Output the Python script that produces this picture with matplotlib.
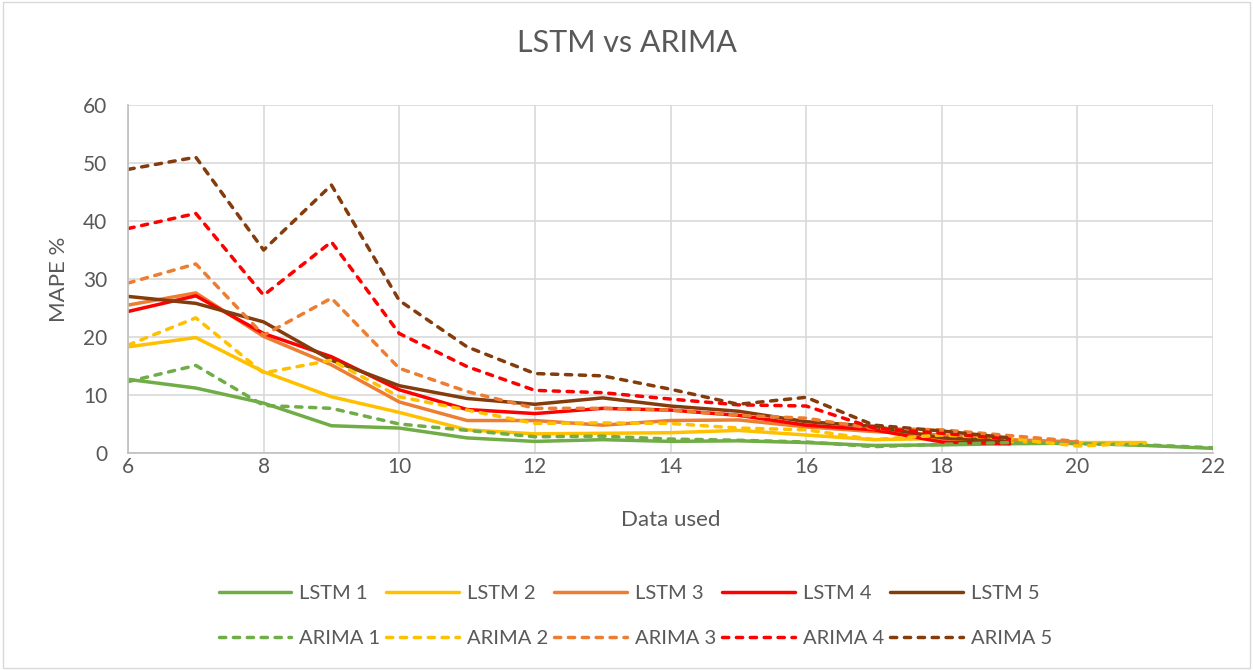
import numpy as np
import matplotlib.pyplot as plt
from matplotlib.patches import Rectangle

plt.rcParams['font.family'] = ['Lato', 'DejaVu Sans']

nan = np.nan
data_used = [6, 7, 8, 9, 10, 11, 12, 13, 14, 15, 16, 17, 18, 19, 20, 21, 22]

lstm_1 = [12.7, 11.2, 8.6, 4.7, 4.3, 2.6, 2.0, 2.3, 2.0, 2.1, 1.8, 1.3, 1.4, 1.6, 1.7, 1.3, 0.8]
lstm_2 = [18.3, 19.9, 14.0, 9.7, 7.0, 4.0, 3.3, 3.4, 3.5, 3.9, 3.1, 2.3, 2.5, 2.0, 1.8, 1.8, nan]
lstm_3 = [25.5, 27.6, 20.1, 15.2, 8.8, 5.6, 5.6, 4.8, 5.6, 5.7, 4.5, 3.7, 3.1, 2.3, 1.9, nan, nan]
lstm_4 = [24.4, 27.1, 20.6, 16.6, 10.9, 7.5, 6.8, 7.7, 7.4, 6.5, 4.8, 4.0, 1.9, 1.6, nan, nan, nan]
lstm_5 = [27.0, 25.8, 22.6, 16.0, 11.6, 9.4, 8.4, 9.5, 8.1, 7.2, 5.4, 4.6, 2.6, 2.0, nan, nan, nan]

arima_1 = [12.3, 15.1, 8.2, 7.7, 5.0, 3.9, 2.8, 2.9, 2.4, 2.2, 1.9, 1.1, 1.5, 1.8, 1.6, 1.4, 0.9]
arima_2 = [18.6, 23.3, 13.8, 16.0, 9.7, 7.4, 5.1, 5.2, 5.1, 4.3, 4.0, 2.3, 3.1, 2.5, 1.2, 1.7, nan]
arima_3 = [29.3, 32.6, 20.3, 26.7, 14.6, 10.6, 7.7, 7.7, 7.4, 6.5, 6.0, 4.2, 4.0, 3.0, 2.0, nan, nan]
arima_4 = [38.7, 41.3, 27.2, 36.4, 20.6, 14.9, 10.8, 10.4, 9.3, 8.3, 8.1, 4.3, 3.4, 2.4, nan, nan, nan]
arima_5 = [48.9, 51.0, 35.0, 46.2, 26.3, 18.3, 13.7, 13.3, 11.0, 8.4, 9.6, 4.8, 3.8, 2.6, nan, nan, nan]

colors = ['#70AD47', '#FFC000', '#ED7D31', '#FF0000', '#843C0C']
lstm_series = [lstm_1, lstm_2, lstm_3, lstm_4, lstm_5]
arima_series = [arima_1, arima_2, arima_3, arima_4, arima_5]

grey_text = '#595959'
grid_col = '#D9D9D9'

fig = plt.figure(figsize=(12.53, 6.70), dpi=100)
ax = fig.add_axes([128 / 1253, 1 - 453 / 670, (1213 - 128) / 1253, (453 - 105) / 670])

# outer chart border
fig.patches.append(Rectangle((0.002, 0.003), 0.996, 0.994, transform=fig.transFigure,
                             fill=False, edgecolor='#D9D9D9', linewidth=1))

lstm_handles = []
for i, (vals, c) in enumerate(zip(lstm_series, colors)):
    h, = ax.plot(data_used, vals, color=c, linewidth=2.5, label=f'LSTM {i + 1}',
                 solid_capstyle='round', solid_joinstyle='round')
    lstm_handles.append(h)
arima_handles = []
for i, (vals, c) in enumerate(zip(arima_series, colors)):
    h, = ax.plot(data_used, vals, color=c, linewidth=2.5, label=f'ARIMA {i + 1}',
                 linestyle=(0, (1.8, 2.2)), dash_capstyle='round')
    arima_handles.append(h)

ax.set_xlim(6, 22)
ax.set_ylim(0, 60)
ax.set_xticks(range(6, 23, 2))
ax.set_yticks(range(0, 61, 10))
ax.grid(True, color=grid_col, linewidth=1.2)
ax.set_axisbelow(True)
for s in ['top', 'right']:
    ax.spines[s].set_visible(False)
for s in ['left', 'bottom']:
    ax.spines[s].set_color('#BFBFBF')
    ax.spines[s].set_linewidth(1.2)
ax.tick_params(length=0, labelsize=15, colors=grey_text)
ax.tick_params(axis='x', pad=3)
ax.tick_params(axis='y', pad=15)

ax.set_xlabel('Data used', fontsize=16, color=grey_text, labelpad=24)
ax.set_ylabel('MAPE %', fontsize=16, color=grey_text, labelpad=10)
fig.text(0.5, 1 - 43 / 670, 'LSTM vs ARIMA', ha='center', va='center',
         fontsize=22, color=grey_text)

# legend fills by column, so interleave to get LSTM row on top, ARIMA row below
handles = []
for a, b in zip(lstm_handles, arima_handles):
    handles += [a, b]
leg = fig.legend(handles=handles, ncol=5, loc='center',
                 bbox_to_anchor=(0.507, 1 - 616 / 670), frameon=False,
                 fontsize=14.5, handlelength=3.6, handletextpad=0.4,
                 columnspacing=0.3, labelspacing=1.35)
for t in leg.get_texts():
    t.set_color(grey_text)

fig.savefig('out.png', dpi=100)
